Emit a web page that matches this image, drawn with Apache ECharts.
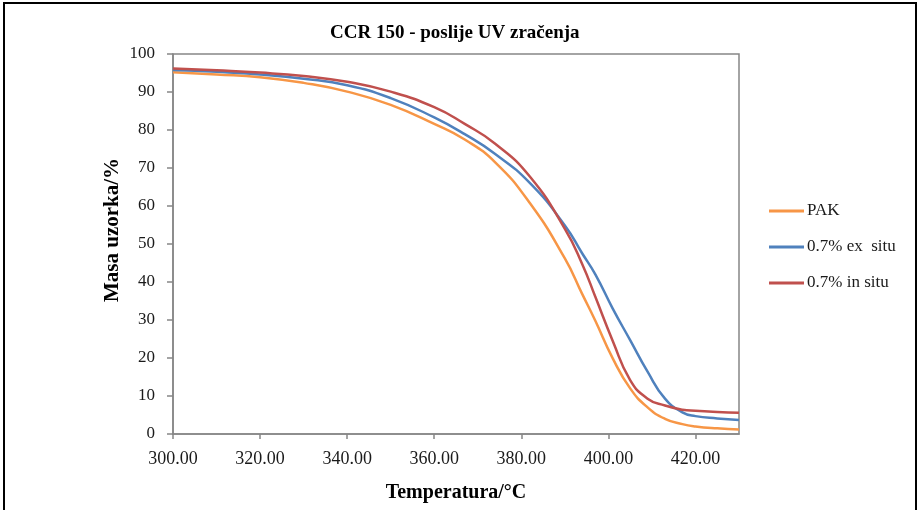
<!DOCTYPE html>
<html>
<head>
<meta charset="utf-8">
<script src="https://cdn.jsdelivr.net/npm/echarts@6/dist/echarts.min.js"></script>
<style>html,body{margin:0;padding:0;background:#fff;}#c{width:921px;height:510px;}</style>
</head>
<body>
<div id="c"></div>
<script>
var temps = [300, 310, 320, 330, 340, 350, 360, 367, 374, 382, 390, 394, 397, 401, 405, 409, 413, 417, 420, 425, 430];
var pak = [95.2, 94.6, 93.9, 92.4, 90.1, 86.6, 81.6, 77.5, 71.5, 60.7, 46.2, 36.8, 29.8, 19.9, 12.0, 7.0, 4.0, 2.6, 2.0, 1.5, 1.2];
var exSitu = [95.8, 95.3, 94.6, 93.5, 91.8, 88.4, 83.3, 78.9, 73.7, 66.0, 54.9, 47.5, 42.0, 33.0, 24.7, 16.4, 9.3, 5.7, 4.7, 4.1, 3.7];
var inSitu = [96.2, 95.7, 95.1, 94.2, 92.7, 90.1, 86.0, 81.6, 76.4, 67.7, 54.0, 44.7, 36.1, 24.5, 14.2, 9.3, 7.5, 6.4, 6.1, 5.8, 5.6];
var seriesNames = ['PAK', '0.7% ex  situ', '0.7% in situ'];
var colors = ['#F79646', '#4F81BD', '#C0504D'];
var xTicks = [300, 320, 340, 360, 380, 400, 420];
var titleText = 'CCR 150 - poslije UV zračenja';
var xName = 'Temperatura/°C';
var yName = 'Masa uzorka/%';

function pairs(xs, ys) { return xs.map(function (x, i) { return [x, ys[i]]; }); }
var values = [pak, exSitu, inSitu];
var font = 'Liberation Serif, Times New Roman, serif';

var chart = echarts.init(document.getElementById('c'), null, {renderer: 'canvas'});
chart.setOption({
  animation: false,
  backgroundColor: '#ffffff',
  color: colors,
  title: {
    text: titleText, left: 325, top: 19,
    textStyle: {fontFamily: font, fontWeight: 'bold', fontSize: 19, color: '#000'}
  },
  graphic: [{
    type: 'rect', shape: {x: 4, y: 3, width: 912, height: 530},
    style: {fill: 'none', stroke: '#000', lineWidth: 2}, z: 100, silent: true
  }, {
    type: 'text', x: 113, y: 230, rotation: Math.PI / 2, silent: true,
    style: {text: yName, fontFamily: font, fontWeight: 'bold', fontSize: 21, fill: '#000', align: 'center', verticalAlign: 'middle'}
  }],
  grid: {left: 173, top: 54, width: 566, height: 380, show: true, borderColor: '#868686', borderWidth: 1.5, containLabel: false},
  legend: {
    orient: 'vertical', left: 764, top: 197, itemWidth: 35, itemHeight: 3, itemGap: 18,
    icon: 'rect',
    data: seriesNames,
    textStyle: {fontFamily: font, fontSize: 17, color: '#1a1a1a', lineHeight: 18, padding: [0, 0, 0, -2]}
  },
  xAxis: {
    type: 'value', min: 300, max: 430, interval: 20,
    name: xName, nameLocation: 'middle', nameGap: 49,
    nameTextStyle: {fontFamily: font, fontWeight: 'bold', fontSize: 20, color: '#000'},
    axisLine: {lineStyle: {color: '#868686', width: 1.5}},
    axisTick: {show: true, length: 5, customValues: xTicks, lineStyle: {color: '#868686', width: 1.5}},
    axisLabel: {customValues: xTicks, margin: 16, fontFamily: font, fontSize: 18, color: '#1a1a1a',
      formatter: function (v) { return Number(v).toFixed(2); }},
    splitLine: {show: false}
  },
  yAxis: {
    type: 'value', min: 0, max: 100, interval: 10,
    axisLine: {show: true, lineStyle: {color: '#868686', width: 1.5}},
    axisTick: {show: true, length: 6, lineStyle: {color: '#868686', width: 1.5}},
    axisLabel: {margin: 18, fontFamily: font, fontSize: 17, color: '#1a1a1a'},
    splitLine: {show: false}
  },
  series: values.map(function (v, i) {
    return {
      name: seriesNames[i], type: 'line', smooth: 0.5, symbol: 'none',
      data: pairs(temps, v),
      lineStyle: {width: 2.5, color: colors[i]},
      itemStyle: {color: colors[i]}
    };
  })
});
</script>
</body>
</html>
